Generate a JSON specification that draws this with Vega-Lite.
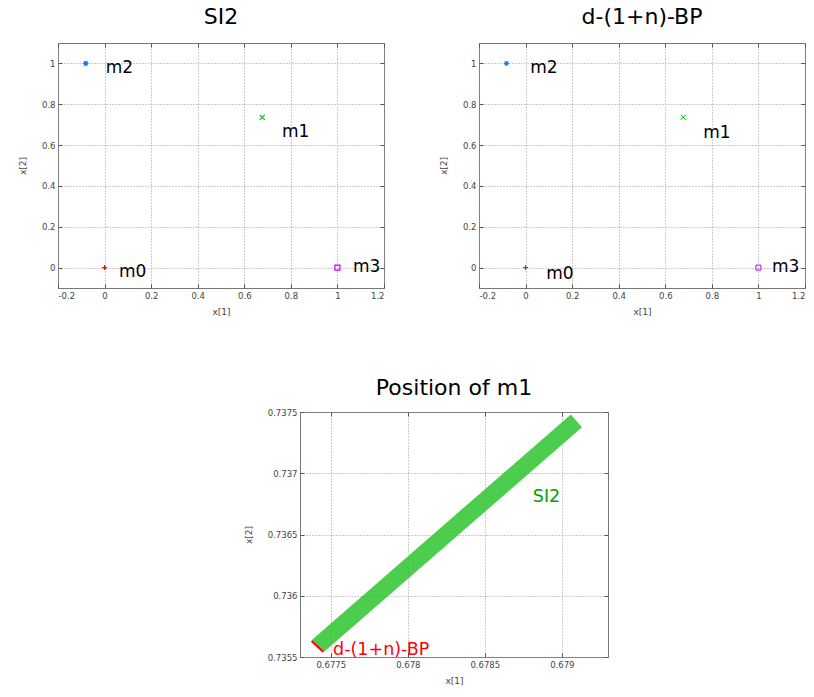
{
  "$schema": "https://vega.github.io/schema/vega-lite/v6.json",
  "background": "white",
  "padding": {"left": 17, "top": 5, "right": 5, "bottom": 5},
  "config": {
    "font": "DejaVu Sans",
    "view": {"stroke": "#777", "strokeWidth": 1},
    "title": {"font": "DejaVu Sans", "fontSize": 22, "fontWeight": "normal", "color": "black", "offset": 14, "anchor": "middle"},
    "axis": {
      "labelFont": "DejaVu Sans", "labelFontSize": 8.5, "labelColor": "#444",
      "titleFont": "DejaVu Sans", "titleFontSize": 9, "titleFontWeight": "normal", "titleColor": "#444",
      "grid": true, "gridDash": [1, 2], "gridColor": "#999", "gridWidth": 1,
      "domain": false, "ticks": true, "tickSize": -4, "tickColor": "#555", "labelPadding": 7
    },
    "axisY": {"titlePadding": 14},
    "axisX": {"titlePadding": 8}
  },
  "datasets": {
    "si2": [
      {"name": "m0", "x1": 0, "x2": 0, "lx": 0.062, "ly": -0.024},
      {"name": "m1", "x1": 0.677, "x2": 0.736, "lx": 0.762, "ly": 0.663},
      {"name": "m2", "x1": -0.081, "x2": 1.0, "lx": 0.005, "ly": 0.976},
      {"name": "m3", "x1": 1.0, "x2": 0, "lx": 1.067, "ly": 0.005}
    ],
    "bp": [
      {"name": "m0", "x1": 0, "x2": 0, "lx": 0.089, "ly": -0.03},
      {"name": "m1", "x1": 0.677, "x2": 0.736, "lx": 0.763, "ly": 0.66},
      {"name": "m2", "x1": -0.082, "x2": 1.0, "lx": 0.02, "ly": 0.977},
      {"name": "m3", "x1": 1.0, "x2": 0, "lx": 1.058, "ly": 0.005}
    ],
    "band": [
      {"method": "SI2", "x1": 0.677413, "x2": 0.735587},
      {"method": "SI2", "x1": 0.679095, "x2": 0.737428}
    ],
    "bpline": [
      {"method": "d-(1+n)-BP", "x1": 0.677375, "x2": 0.73563},
      {"method": "d-(1+n)-BP", "x1": 0.67745, "x2": 0.735543}
    ],
    "notes": [
      {"label": "SI2", "x1": 0.678812, "x2": 0.736806, "method": "SI2"},
      {"label": "d-(1+n)-BP", "x1": 0.677515, "x2": 0.735557, "method": "d-(1+n)-BP"}
    ]
  },
  "vconcat": [
    {
      "hconcat": [
        {
          "width": 326, "height": 245,
          "title": "SI2",
          "data": {"name": "si2"},
          "resolve": {"axis": {"x": "independent", "y": "independent"}},
          "layer": [
            {
              "mark": {"type": "point", "filled": false, "strokeWidth": 1.2, "size": 25, "opacity": 1},
              "encoding": {
                "x": {"field": "x1", "type": "quantitative", "scale": {"domain": [-0.2, 1.2], "nice": false, "zero": false},
                      "axis": {"title": "x[1]", "values": [-0.2, 0, 0.2, 0.4, 0.6, 0.8, 1, 1.2], "labelExpr": "replace(format(datum.value, '~g'), '\u2212', '-')"}},
                "y": {"field": "x2", "type": "quantitative", "scale": {"domain": [-0.1, 1.1], "nice": false, "zero": false},
                      "axis": {"title": "x[2]", "values": [0, 0.2, 0.4, 0.6, 0.8, 1], "labelExpr": "replace(format(datum.value, '~g'), '\u2212', '-')"}},
                "color": {"field": "name", "type": "nominal", "scale": {"domain": ["m0", "m1", "m2", "m3"], "range": ["#ff0000", "#00c000", "#0080ff", "#c000ff"]}, "legend": null},
                "shape": {"field": "name", "type": "nominal", "scale": {"domain": ["m0", "m1", "m2", "m3"], "range": ["M-1,0L1,0M0,-1L0,1", "M-1,-1L1,1M-1,1L1,-1", "M-1,0L1,0M0,-1L0,1M-0.8,-0.8L0.8,0.8M-0.8,0.8L0.8,-0.8M-0.5,-0.5L0.5,-0.5L0.5,0.5L-0.5,0.5Z", "M-1,-1L1,-1L1,1L-1,1Z"]}, "legend": null}
              }
            },
            {
              "mark": {"type": "text", "fontSize": 17, "font": "DejaVu Sans", "color": "black", "align": "left", "baseline": "middle"},
              "encoding": {
                "x": {"field": "lx", "type": "quantitative", "axis": {"orient": "top", "labels": false, "title": null, "grid": false, "values": [-0.2, 0, 0.2, 0.4, 0.6, 0.8, 1, 1.2], "minExtent": 0}},
                "y": {"field": "ly", "type": "quantitative", "axis": {"orient": "right", "labels": false, "title": null, "grid": false, "values": [0, 0.2, 0.4, 0.6, 0.8, 1], "minExtent": 0}},
                "text": {"field": "name"}
              }
            }
          ]
        },
        {
          "width": 326, "height": 245,
          "title": "d-(1+n)-BP",
          "data": {"name": "bp"},
          "resolve": {"axis": {"x": "independent", "y": "independent"}},
          "layer": [
            {
              "mark": {"type": "point", "filled": false, "strokeWidth": 1, "size": 25, "opacity": 1},
              "encoding": {
                "x": {"field": "x1", "type": "quantitative", "scale": {"domain": [-0.2, 1.2], "nice": false, "zero": false},
                      "axis": {"title": "x[1]", "values": [-0.2, 0, 0.2, 0.4, 0.6, 0.8, 1, 1.2], "labelExpr": "replace(format(datum.value, '~g'), '\u2212', '-')"}},
                "y": {"field": "x2", "type": "quantitative", "scale": {"domain": [-0.1, 1.1], "nice": false, "zero": false},
                      "axis": {"title": "x[2]", "values": [0, 0.2, 0.4, 0.6, 0.8, 1], "labelExpr": "replace(format(datum.value, '~g'), '\u2212', '-')"}},
                "color": {"field": "name", "type": "nominal", "scale": {"domain": ["m0", "m1", "m2", "m3"], "range": ["#ff0000", "#55d055", "#0080ff", "#c050ff"]}, "legend": null},
                "shape": {"field": "name", "type": "nominal", "scale": {"domain": ["m0", "m1", "m2", "m3"], "range": ["M-1,0L1,0M0,-1L0,1", "M-1,-1L1,1M-1,1L1,-1", "M-1,0L1,0M0,-1L0,1M-0.8,-0.8L0.8,0.8M-0.8,0.8L0.8,-0.8M-0.5,-0.5L0.5,-0.5L0.5,0.5L-0.5,0.5Z", "M-1,-1L1,-1L1,1L-1,1Z"]}, "legend": null}
              }
            },
            {
              "mark": {"type": "text", "fontSize": 17, "font": "DejaVu Sans", "color": "black", "align": "left", "baseline": "middle"},
              "encoding": {
                "x": {"field": "lx", "type": "quantitative", "axis": {"orient": "top", "labels": false, "title": null, "grid": false, "values": [-0.2, 0, 0.2, 0.4, 0.6, 0.8, 1, 1.2], "minExtent": 0}},
                "y": {"field": "ly", "type": "quantitative", "axis": {"orient": "right", "labels": false, "title": null, "grid": false, "values": [0, 0.2, 0.4, 0.6, 0.8, 1], "minExtent": 0}},
                "text": {"field": "name"}
              }
            }
          ]
        }
      ],
      "spacing": 53
    },
    {
      "hconcat": [
        {
          "width": 1, "height": 10,
          "data": {"values": []},
          "mark": {"type": "text"},
          "view": {"stroke": null}
        },
        {
          "width": 308, "height": 245,
          "title": {"text": "Position of m1", "offset": 8},
          "resolve": {"axis": {"x": "independent", "y": "independent"}},
          "layer": [
            {
              "data": {"name": "band"},
              "mark": {"type": "line", "strokeWidth": 17, "strokeCap": "butt", "strokeJoin": "round", "color": "#2ec42e", "opacity": 0.85, "clip": true},
              "encoding": {
                "x": {"field": "x1", "type": "quantitative", "scale": {"domain": [0.6773, 0.6793], "nice": false, "zero": false},
                      "axis": {"title": "x[1]", "values": [0.6775, 0.678, 0.6785, 0.679], "format": "~g"}},
                "y": {"field": "x2", "type": "quantitative", "scale": {"domain": [0.7355, 0.7375], "nice": false, "zero": false},
                      "axis": {"title": "x[2]", "values": [0.7355, 0.736, 0.7365, 0.737, 0.7375], "format": "~g"}}
              }
            },
            {
              "data": {"name": "bpline"},
              "mark": {"type": "line", "strokeWidth": 2, "color": "#ff0000", "strokeJoin": "round", "clip": true},
              "encoding": {
                "x": {"field": "x1", "type": "quantitative", "axis": {"orient": "top", "labels": false, "title": null, "grid": false, "values": [0.6775, 0.678, 0.6785, 0.679], "minExtent": 0}},
                "y": {"field": "x2", "type": "quantitative", "axis": {"orient": "right", "labels": false, "title": null, "grid": false, "values": [0.7355, 0.736, 0.7365, 0.737, 0.7375], "minExtent": 0}}
              }
            },
            {
              "data": {"name": "notes"},
              "transform": [{"filter": "datum.method === 'SI2'"}],
              "mark": {"type": "text", "fontSize": 17.5, "font": "DejaVu Sans", "align": "left", "baseline": "middle", "color": "#00a000"},
              "encoding": {
                "x": {"field": "x1", "type": "quantitative", "axis": null},
                "y": {"field": "x2", "type": "quantitative", "axis": null},
                "text": {"field": "label"}
              }
            },
            {
              "data": {"name": "notes"},
              "transform": [{"filter": "datum.method !== 'SI2'"}],
              "mark": {"type": "text", "fontSize": 17.5, "font": "DejaVu Sans", "align": "left", "baseline": "middle", "color": "#ff0000"},
              "encoding": {
                "x": {"field": "x1", "type": "quantitative", "axis": null},
                "y": {"field": "x2", "type": "quantitative", "axis": null},
                "text": {"field": "label"}
              }
            }
          ]
        }
      ],
      "spacing": 184
    }
  ],
  "spacing": 59
}
